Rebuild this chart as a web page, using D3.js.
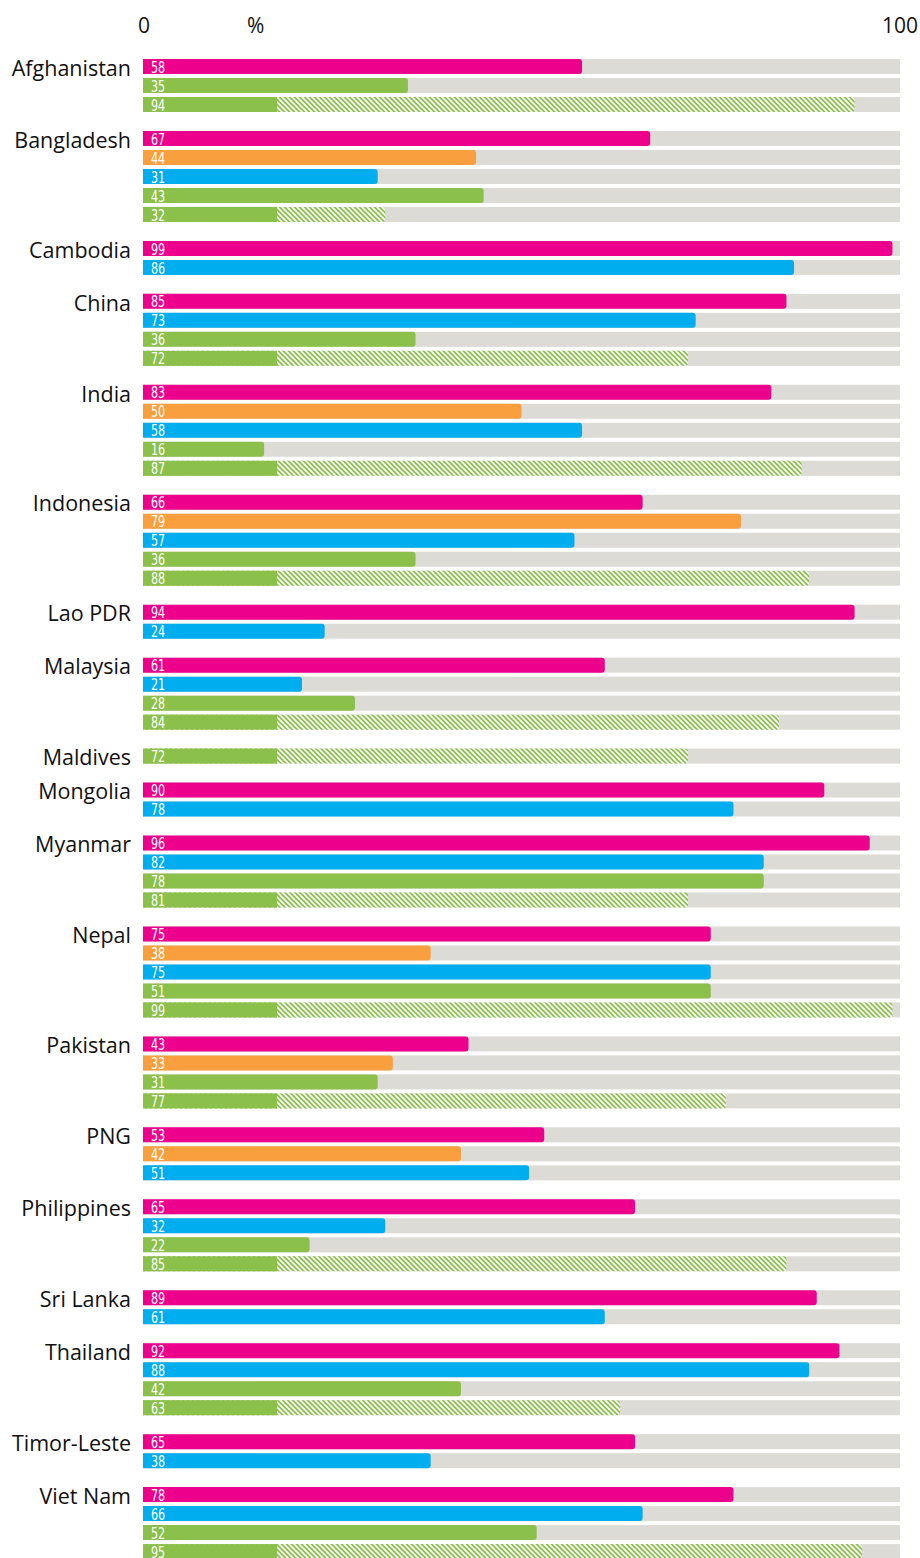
<!DOCTYPE html>
<html>
<head>
<meta charset="utf-8">
<script src="https://cdn.jsdelivr.net/npm/d3@7"></script>
<style>
  body { margin: 0; background: #fff; }
  svg { display: block; }
</style>
</head>
<body>
<svg id="chart"></svg>
<script>
// countries, top to bottom
const countries = [
  "Afghanistan", "Bangladesh", "Cambodia", "China", "India", "Indonesia",
  "Lao PDR", "Malaysia", "Maldives", "Mongolia", "Myanmar", "Nepal",
  "Pakistan", "PNG", "Philippines", "Sri Lanka", "Thailand", "Timor-Leste",
  "Viet Nam"
];

// which series each bar row of a country belongs to
const countrySeries = [
  ["magenta", "green", "hatched"],
  ["magenta", "orange", "blue", "green", "hatched"],
  ["magenta", "blue"],
  ["magenta", "blue", "green", "hatched"],
  ["magenta", "orange", "blue", "green", "hatched"],
  ["magenta", "orange", "blue", "green", "hatched"],
  ["magenta", "blue"],
  ["magenta", "blue", "green", "hatched"],
  ["hatched"],
  ["magenta", "blue"],
  ["magenta", "blue", "green", "hatched"],
  ["magenta", "orange", "blue", "green", "hatched"],
  ["magenta", "orange", "green", "hatched"],
  ["magenta", "orange", "blue"],
  ["magenta", "blue", "green", "hatched"],
  ["magenta", "blue"],
  ["magenta", "blue", "green", "hatched"],
  ["magenta", "blue"],
  ["magenta", "blue", "green", "hatched"]
];

// bar lengths (%) as drawn
const countryValues = [
  [58, 35, 94],
  [67, 44, 31, 45, 32],
  [99, 86],
  [85, 73, 36, 72],
  [83, 50, 58, 16, 87],
  [66, 79, 57, 36, 88],
  [94, 24],
  [61, 21, 28, 84],
  [72],
  [90, 78],
  [96, 82, 82, 72],
  [75, 38, 75, 75, 99],
  [43, 33, 31, 77],
  [53, 42, 51],
  [65, 32, 22, 85],
  [89, 61],
  [92, 88, 42, 63],
  [65, 38],
  [78, 66, 52, 95]
];

// printed numbers that differ from the drawn bar length
const printedOverrides = {
  "Bangladesh-3": 43,
  "Myanmar-2": 78,
  "Myanmar-3": 81,
  "Nepal-3": 51
};

const axisTicks = [{ v: 0, t: "0" }, { v: 100, t: "100" }];

const colors = {
  magenta: "#EC008C",
  orange: "#F99F3E",
  blue: "#00ADEE",
  green: "#8BC04A",
  hatched: "#8BC04A",
  track: "#DCDBD6"
};
const hatchFrom = 17.7; // solid part of the hatched bars

const width = 920, height = 1558;
const margin = { top: 59, left: 143, right: 20 };
const rowStep = 19, barH = 15, groupGap = 14.95;

const svg = d3.select("#chart").attr("width", width).attr("height", height);

// diagonal "\" stripes
const hs = 5;
const defs = svg.append("defs");
const pat = defs.append("pattern")
  .attr("id", "hatch")
  .attr("patternUnits", "userSpaceOnUse")
  .attr("width", hs)
  .attr("height", hs);
pat.append("rect").attr("width", hs).attr("height", hs).attr("fill", colors.hatched);
pat.append("path")
  .attr("d", "M-1,-1L" + (hs + 1) + "," + (hs + 1) + "M-1," + (hs - 1) + "L1," + (hs + 1) + "M" + (hs - 1) + ",-1L" + (hs + 1) + ",1")
  .attr("stroke", "#fff")
  .attr("stroke-width", 1.7);

const x = d3.scaleLinear().domain([0, 100]).range([margin.left, width - margin.right]);

// flatten rows
let rows = [];
let rowIdx = 0;
countries.forEach((c, gi) => {
  countryValues[gi].forEach((v, i) => {
    const key = c + "-" + i;
    rows.push({
      country: c,
      group: gi,
      idx: i,
      row: rowIdx++,
      series: countrySeries[gi][i],
      value: v,
      label: printedOverrides[key] != null ? printedOverrides[key] : v
    });
  });
});

const yRow = d3.scaleLinear().domain([0, 1]).range([margin.top, margin.top + rowStep]);
const y = d => yRow(d.row) + d.group * groupGap;

// bar with rounded right end
function barPath(x0, x1, top, h, r) {
  r = Math.min(r, (x1 - x0) / 2);
  return "M" + x0 + "," + top +
    "H" + (x1 - r) +
    "Q" + x1 + "," + top + " " + x1 + "," + (top + r) +
    "V" + (top + h - r) +
    "Q" + x1 + "," + (top + h) + " " + (x1 - r) + "," + (top + h) +
    "H" + x0 + "Z";
}

const labelFont = "'Open Sans', 'Noto Sans', sans-serif";

// axis labels
const axisG = svg.append("g").attr("font-family", labelFont).attr("font-size", 21).attr("fill", "#111");
axisG.selectAll("text.tick")
  .data(axisTicks)
  .join("text")
  .attr("class", "tick")
  .attr("x", d => d.v === 0 ? x(d.v) + 1 : x(d.v) + 18)
  .attr("y", 33)
  .attr("text-anchor", d => d.v === 0 ? "middle" : "end")
  .text(d => d.t);
axisG.append("text").attr("x", x(14.9)).attr("y", 33).attr("text-anchor", "middle").text("%");

// tracks
svg.append("g").selectAll("rect")
  .data(rows)
  .join("rect")
  .attr("x", x(0))
  .attr("y", d => y(d))
  .attr("width", x(100) - x(0))
  .attr("height", barH)
  .attr("fill", colors.track);

// bars
const barG = svg.append("g");
barG.selectAll("path.bar")
  .data(rows)
  .join("path")
  .attr("class", "bar")
  .attr("d", d => barPath(x(0), x(d.value), y(d), barH, 3))
  .attr("fill", d => d.series === "hatched" ? "url(#hatch)" : colors[d.series]);

// solid start of hatched bars
barG.selectAll("rect.solid")
  .data(rows.filter(d => d.series === "hatched"))
  .join("rect")
  .attr("class", "solid")
  .attr("x", x(0))
  .attr("y", d => y(d))
  .attr("width", d => x(Math.min(hatchFrom, d.value)) - x(0))
  .attr("height", barH)
  .attr("fill", colors.green);

// value labels (tall condensed digits)
svg.append("g").selectAll("text")
  .data(rows)
  .join("text")
  .attr("transform", d => "translate(" + (x(0) + 8) + "," + (y(d) + 13.6) + ") scale(0.8,1)")
  .attr("font-family", "'DejaVu Sans Condensed', 'Liberation Sans Narrow', sans-serif")
  .attr("font-size", 15.5)
  .attr("fill", "#fff")
  .text(d => d.label);

// country labels
const firstRows = rows.filter(d => d.idx === 0);
svg.append("g").selectAll("text")
  .data(firstRows)
  .join("text")
  .attr("x", 131)
  .attr("y", d => y(d) + 16.7)
  .attr("text-anchor", "end")
  .attr("font-family", labelFont)
  .attr("font-size", 21.5)
  .attr("fill", "#111")
  .text(d => d.country);
</script>
</body>
</html>
